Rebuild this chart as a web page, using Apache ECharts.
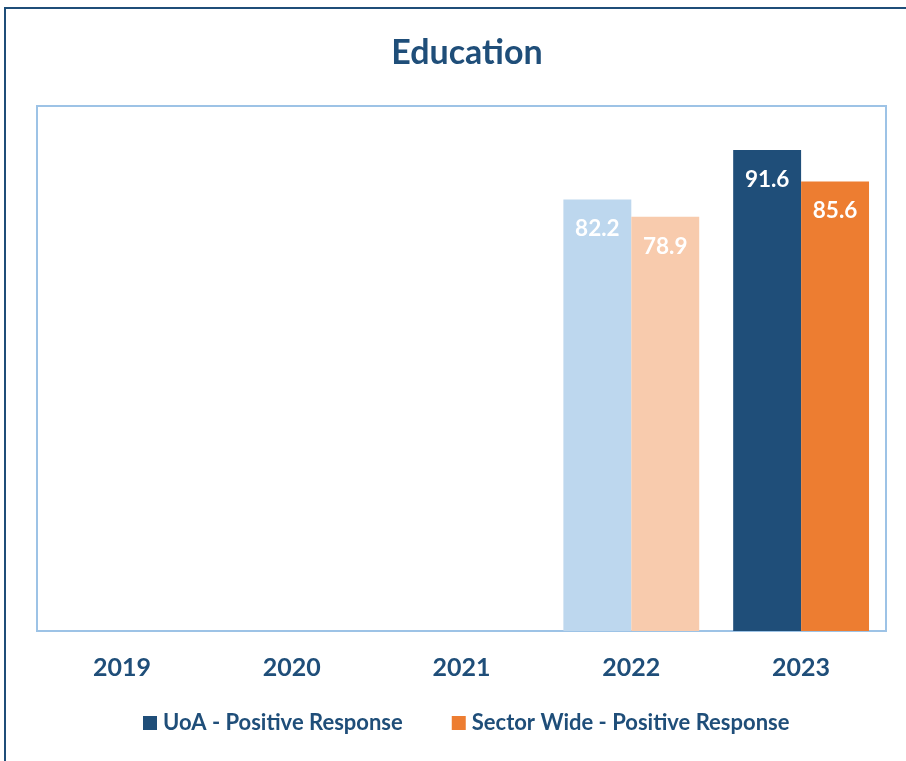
<!DOCTYPE html>
<html><head><meta charset="utf-8">
<script src="https://cdn.jsdelivr.net/npm/echarts@6/dist/echarts.min.js"></script>
<style>html,body{margin:0;padding:0;background:#fff}#c{width:906px;height:761px}</style>
</head><body><div id="c"></div>
<script>
const categories = ['2019','2020','2021','2022','2023'];
const uoaValues = [null, null, null, 82.2, 91.6];
const sectorValues = [null, null, null, 78.9, 85.6];
const seriesNames = ['UoA - Positive Response', 'Sector Wide - Positive Response'];

const dark = '#1F4E79';
const uoaColors = {light:'#BDD7EE', full:'#1F4E79'};
const sectorColors = {light:'#F8CBAD', full:'#ED7D31'};
const lightYears = ['2022'];

function build(vals, cols){
  return vals.map((v,i)=>({value:v, itemStyle:{color: lightYears.includes(categories[i]) ? cols.light : cols.full}}));
}
const font = 'Lato, "Open Sans", sans-serif';
const W = 'bold';
const chart = echarts.init(document.getElementById('c'));
chart.setOption({
  animation:false,
  title:{text:'Education', left:462, top:31, textAlign:'center',
    textStyle:{color:dark, fontSize:34, fontWeight:W, fontFamily:font}},
  graphic:[{type:'rect', shape:{x:5, y:8, width:960, height:800},
    style:{fill:null, stroke:dark, lineWidth:2}, z:-1}],
  legend:{bottom:22, left:138, itemWidth:14, itemHeight:14, icon:'rect', itemGap:49,
    textStyle:{color:dark, fontSize:22, fontWeight:W, fontFamily:font, padding:[0,0,0,1]},
    data:[{name:seriesNames[0], itemStyle:{color:uoaColors.full}},{name:seriesNames[1], itemStyle:{color:sectorColors.full}}]},
  grid:{left:37, right:20, top:106, bottom:130, show:true, borderColor:'#9DC3E6', borderWidth:2, backgroundColor:'#fff'},
  xAxis:{type:'category', data:categories, axisLine:{show:false}, axisTick:{show:false},
    axisLabel:{color:dark, fontSize:25, fontWeight:W, fontFamily:font, margin:24}},
  yAxis:{type:'value', min:0, max:100, interval:20, show:false, splitLine:{show:false}},
  series:[
    {name:seriesNames[0], type:'bar', data:build(uoaValues, uoaColors), barGap:'0%', barCategoryGap:'20%',
      label:{show:true, position:'insideTop', distance:18, color:'#fff', fontSize:22.5, fontWeight:W, fontFamily:font}},
    {name:seriesNames[1], type:'bar', data:build(sectorValues, sectorColors),
      label:{show:true, position:'insideTop', distance:18, color:'#fff', fontSize:22.5, fontWeight:W, fontFamily:font}}
  ]
});
</script></body></html>
